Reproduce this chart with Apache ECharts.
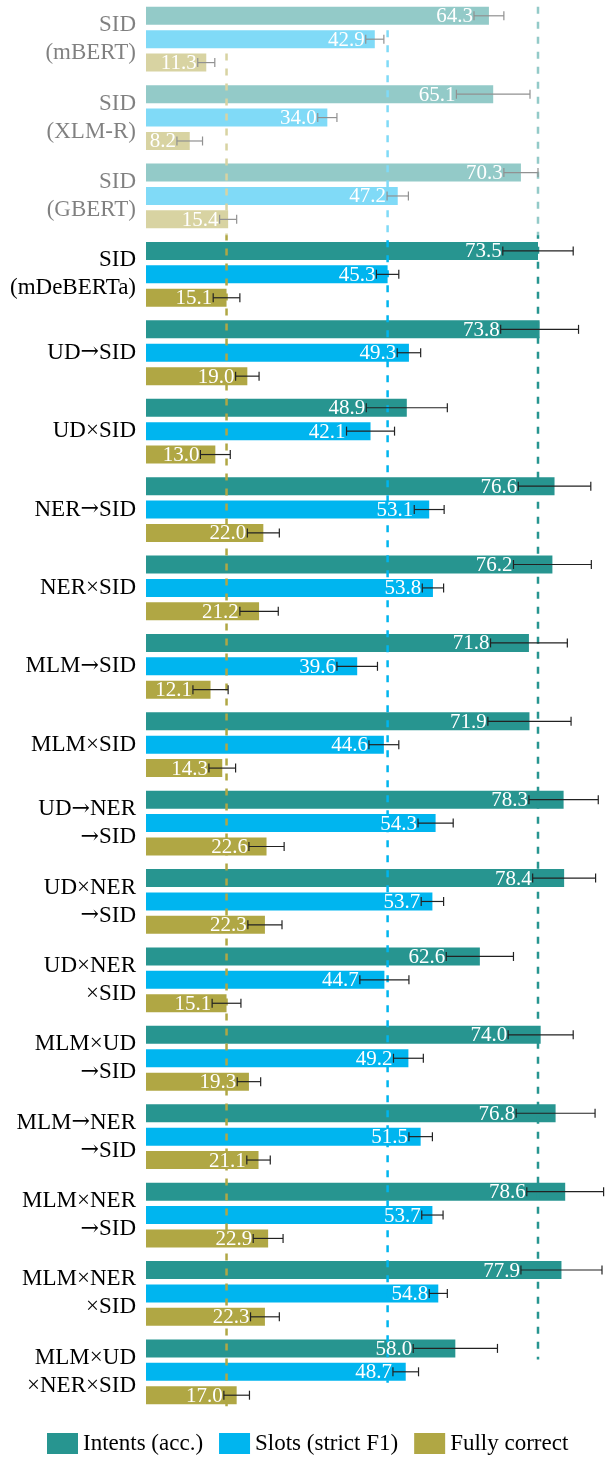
<!DOCTYPE html>
<html>
<head>
<meta charset="utf-8">
<script src="https://cdn.jsdelivr.net/npm/echarts@6/dist/echarts.min.js"></script>
<style>
  html, body { margin: 0; padding: 0; background: #fff; }
  #chart { width: 606px; height: 1457px; }
</style>
</head>
<body>
<div id="chart"></div>
<script>
// model variants (top to bottom)
const categories = [
  'SID\n(mBERT)', 'SID\n(XLM-R)', 'SID\n(GBERT)', 'SID\n(mDeBERTa)',
  'UD→SID', 'UD×SID', 'NER→SID', 'NER×SID', 'MLM→SID', 'MLM×SID',
  'UD→NER\n→SID', 'UD×NER\n→SID', 'UD×NER\n×SID', 'MLM×UD\n→SID',
  'MLM→NER\n→SID', 'MLM×NER\n→SID', 'MLM×NER\n×SID', 'MLM×UD\n×NER×SID'
];
const seriesNames = ['Intents (acc.)', 'Slots (strict F1)', 'Fully correct'];

const intents    = [64.3, 65.1, 70.3, 73.5, 73.8, 48.9, 76.6, 76.2, 71.8, 71.9, 78.3, 78.4, 62.6, 74.0, 76.8, 78.6, 77.9, 58.0];
const intentsErr = [2.8, 6.9, 3.2, 6.6, 7.3, 7.6, 6.8, 7.3, 7.2, 7.8, 6.5, 5.9, 6.3, 6.1, 7.4, 7.2, 7.6, 7.9];
const slots      = [42.9, 34.0, 47.2, 45.3, 49.3, 42.1, 53.1, 53.8, 39.6, 44.6, 54.3, 53.7, 44.7, 49.2, 51.5, 53.7, 54.8, 48.7];
const slotsErr   = [1.7, 1.8, 2.0, 2.1, 2.2, 4.5, 2.8, 2.0, 3.8, 2.8, 3.3, 2.1, 4.6, 2.8, 2.2, 2.0, 1.7, 2.4];
const full       = [11.3, 8.2, 15.4, 15.1, 19.0, 13.0, 22.0, 21.2, 12.1, 14.3, 22.6, 22.3, 15.1, 19.3, 21.1, 22.9, 22.3, 17.0];
const fullErr    = [1.6, 2.4, 1.6, 2.5, 2.2, 2.8, 3.0, 3.6, 3.3, 2.5, 3.3, 3.2, 2.7, 2.2, 2.2, 2.8, 2.7, 2.4];

const baselineIndex = 3; // SID (mDeBERTa) -> dashed reference lines
const fadedCount = 3;    // other encoders, drawn washed out

const colors = ['#279590', '#00b5ef', '#b0a744'];
const FONT = '"Liberation Serif", "DejaVu Serif", serif';
const BAR_W = 18;
const BAR_PITCH = BAR_W * 1.3;

const values = [intents, slots, full];
const errs = [intentsErr, slotsErr, fullErr];

const errData = [];
values.forEach((arr, s) => arr.forEach((v, i) => errData.push([v, i, errs[s][i], s])));
const refData = values.map((arr, s) => [arr[baselineIndex], 0, s]);

function barY(api, cat, s) {
  return api.coord([0, cat])[1] + (s - 1) * BAR_PITCH;
}

const chart = echarts.init(document.getElementById('chart'));

chart.setOption({
  animation: false,
  grid: { left: 146, right: 0, top: 0, height: 1411 },
  xAxis: { type: 'value', min: 0, max: 86.25, show: false },
  yAxis: {
    type: 'category',
    inverse: true,
    data: categories,
    axisLine: { show: false },
    axisTick: { show: false },
    axisLabel: {
      fontFamily: FONT, fontSize: 23, lineHeight: 28, color: '#000', margin: 10,
      // longer arrow glyph than Liberation Serif's
      formatter: v => v.split('\n').map(l => l.replace(/→/g, '{a|→}')).join('\n'),
      rich: {
        a: { fontFamily: '"DejaVu Serif"', fontSize: 22, lineHeight: 28, color: '#000' }
      }
    }
  },
  legend: {
    left: 47, top: 1432, padding: 0,
    icon: 'rect', itemWidth: 31, itemHeight: 21, itemGap: 16,
    textStyle: { fontFamily: FONT, fontSize: 23, color: '#000' },
    data: seriesNames
  },
  series: [
    ...seriesNames.map((name, s) => ({
      name: name,
      type: 'bar',
      barWidth: BAR_W,
      barGap: '30%',
      itemStyle: { color: colors[s] },
      data: values[s]
    })),
    {
      // dashed lines at the mDeBERTa baseline
      type: 'custom',
      z: 3,
      data: refData,
      renderItem: (params, api) => {
        const s = api.value(2);
        const x = api.coord([api.value(0), 0])[0];
        const y1 = barY(api, 0, s) - BAR_W / 2;
        const y2 = barY(api, categories.length - 1, s) + BAR_W / 2 + 2;
        return {
          type: 'line',
          shape: { x1: x, y1: y1, x2: x, y2: y2 },
          style: { stroke: colors[s], lineWidth: 2.5, lineDash: [7, 8] }
        };
      }
    },
    {
      // value labels, right-aligned at the left end of the error bar
      type: 'custom',
      z: 4,
      clip: true,
      data: errData,
      renderItem: (params, api) => {
        const v = api.value(0), cat = api.value(1), e = api.value(2), s = api.value(3);
        const y = barY(api, cat, s);
        const x = api.coord([v - e, cat])[0] - 1;
        return {
          type: 'text',
          x: x, y: y + 1,
          style: {
            text: v.toFixed(1), fill: '#fff',
            fontFamily: FONT, fontSize: 21,
            align: 'right', verticalAlign: 'middle'
          }
        };
      }
    },
    {
      // error bars
      type: 'custom',
      z: 5,
      data: errData,
      renderItem: (params, api) => {
        const v = api.value(0), cat = api.value(1), e = api.value(2), s = api.value(3);
        const y = barY(api, cat, s);
        const xl = api.coord([v - e, cat])[0];
        const xr = api.coord([v + e, cat])[0];
        const st = { stroke: '#222', lineWidth: 1.2 };
        return {
          type: 'group',
          children: [
            { type: 'line', shape: { x1: xl, y1: y, x2: xr, y2: y }, style: st },
            { type: 'line', shape: { x1: xl, y1: y - 4.5, x2: xl, y2: y + 4.5 }, style: st },
            { type: 'line', shape: { x1: xr, y1: y - 4.5, x2: xr, y2: y + 4.5 }, style: st }
          ]
        };
      }
    }
  ]
});

// wash out the groups of the other encoders
const yA = chart.convertToPixel({ gridIndex: 0 }, [0, fadedCount - 1])[1];
const yB = chart.convertToPixel({ gridIndex: 0 }, [0, fadedCount])[1];
chart.setOption({
  graphic: [{
    type: 'rect', z: 100,
    shape: { x: 0, y: 0, width: 606, height: (yA + yB) / 2 },
    style: { fill: 'rgba(255,255,255,0.5)' }
  }]
});
</script>
</body>
</html>
